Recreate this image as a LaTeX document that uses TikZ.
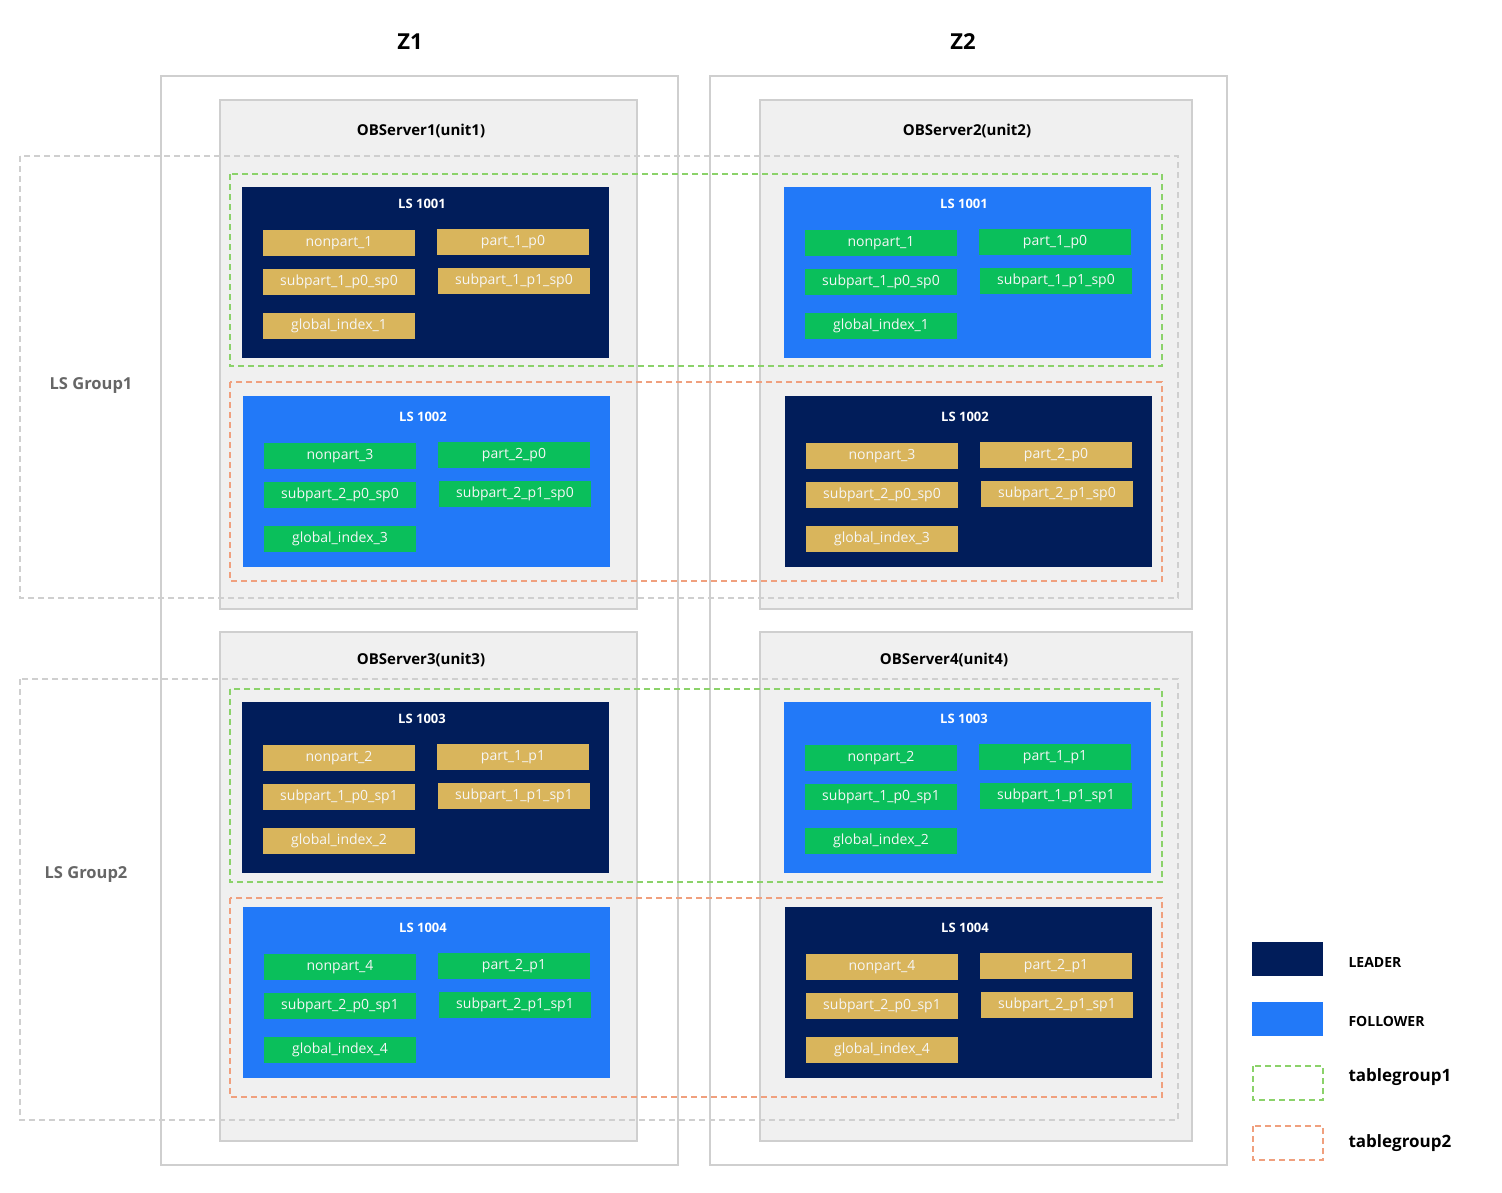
\documentclass[tikz,border=0pt]{standalone}
\usepackage{fontspec}
\setmainfont{Open Sans}
\begin{document}
\definecolor{navy}{HTML}{011D5A}
\definecolor{fblue}{HTML}{2279F8}
\definecolor{grn}{HTML}{0ABF5B}
\definecolor{gld}{HTML}{D9B55C}
\definecolor{bord}{HTML}{CFCFCF}
\definecolor{tgg}{HTML}{8BD26A}
\definecolor{tgo}{HTML}{F0A07E}
\begin{tikzpicture}[x=1pt,y=-1pt,
 zone/.style={draw=bord,line width=1.5pt},
 srv/.style={draw=bord,fill=black!6,line width=1.5pt},
 grp/.style={draw=bord,dashed,line width=1.3pt,dash pattern=on 6pt off 4pt},
 tg1/.style={draw=tgg,line width=1.5pt,dash pattern=on 6pt off 4pt},
 tg2/.style={draw=tgo,line width=1.5pt,dash pattern=on 6pt off 4pt},
 ls/.style={anchor=north west,minimum width=367pt,minimum height=171pt,inner sep=0pt,draw=none},
 lead/.style={ls,fill=navy},
 foll/.style={ls,fill=fblue},
 itm/.style={minimum width=152pt,minimum height=26pt,inner sep=0pt,text=white!93!gray,font=\fontsize{14}{16}\selectfont},
 gi/.style={itm,fill=gld},
 gr/.style={itm,fill=grn},
 lstitle/.style={text=white,font=\bfseries\fontsize{13}{15}\selectfont},
 stitle/.style={font=\bfseries\fontsize{15}{17}\selectfont},
 zt/.style={font=\bfseries\fontsize{22}{24}\selectfont},
 glab/.style={text=black!60,font=\bfseries\fontsize{16.5}{19}\selectfont},
 leg/.style={anchor=west,font=\bfseries\fontsize{14}{16}\selectfont}]
\useasboundingbox (0,0) rectangle (1502,1192);
\def\dy{0}
\newcommand\lsb[9]{%
 \node[#4] (#1) at (#2,#3) {};
 \node[lstitle] (#1t) at (#2+180,#3+17+\dy) {#6};
 \node[#5] (#1a) at (#2+97,#3+56+\dy) {nonpart\_#7};
 \node[#5] (#1b) at (#2+271,#3+55+\dy) {part\_#8\_p#9};
 \node[#5] (#1c) at (#2+97,#3+95+\dy) {subpart\_#8\_p0\_sp#9};
 \node[#5] (#1d) at (#2+272,#3+94+\dy) {subpart\_#8\_p1\_sp#9};
 \node[#5] (#1e) at (#2+97,#3+139+\dy) {global\_index\_#7};}
% zones
\draw[zone] (161,76) rectangle (678,1165);
\draw[zone] (710,76) rectangle (1227,1165);
\node[zt] (z1) at (410,42) {Z1};
\node[zt] (z2) at (963,42) {Z2};
% servers
\draw[srv] (220,100) rectangle (637,609);
\draw[srv] (760,100) rectangle (1192,609);
\draw[srv] (220,632) rectangle (637,1141);
\draw[srv] (760,632) rectangle (1192,1141);
\node[stitle] (s1) at (421,131) {OBServer1(unit1)};
\node[stitle] (s2) at (967,131) {OBServer2(unit2)};
\node[stitle] (s3) at (421,660) {OBServer3(unit3)};
\node[stitle] (s4) at (944,660) {OBServer4(unit4)};
% groups
\draw[grp] (20,156) rectangle (1178,598);
\draw[grp] (20,679) rectangle (1178,1120);
\node[glab] (g1) at (91,386) {LS Group1};
\node[glab] (g2) at (86,874) {LS Group2};
% LS boxes
\def\dy{0}
\lsb{a1}{242}{187}{lead}{gi}{LS 1001}{1}{1}{0}
\lsb{b1}{784}{187}{foll}{gr}{LS 1001}{1}{1}{0}
\lsb{a3}{242}{702}{lead}{gi}{LS 1003}{2}{1}{1}
\lsb{b3}{784}{702}{foll}{gr}{LS 1003}{2}{1}{1}
\def\dy{4}
\lsb{a2}{243}{396}{foll}{gr}{LS 1002}{3}{2}{0}
\lsb{b2}{785}{396}{lead}{gi}{LS 1002}{3}{2}{0}
\lsb{a4}{243}{907}{foll}{gr}{LS 1004}{4}{2}{1}
\lsb{b4}{785}{907}{lead}{gi}{LS 1004}{4}{2}{1}
% tablegroups
\draw[tg1] (230,174) rectangle (1162,366);
\draw[tg2] (230,382) rectangle (1162,581);
\draw[tg1] (230,689) rectangle (1162,882);
\draw[tg2] (230,898) rectangle (1162,1097);
% legend
\fill[navy] (1252,942) rectangle (1323,976);
\fill[fblue] (1252,1002) rectangle (1323,1036);
\draw[tg1] (1253,1066) rectangle (1323,1100);
\draw[tg2] (1253,1126) rectangle (1323,1160);
\node[leg] (l1) at (1345,962) {LEADER};
\node[leg] (l2) at (1345,1021) {FOLLOWER};
\node[leg,font=\bfseries\fontsize{17}{19}\selectfont] (l3) at (1345,1077) {tablegroup1};
\node[leg,font=\bfseries\fontsize{17}{19}\selectfont] (l4) at (1345,1143) {tablegroup2};
\end{tikzpicture}
\end{document}
